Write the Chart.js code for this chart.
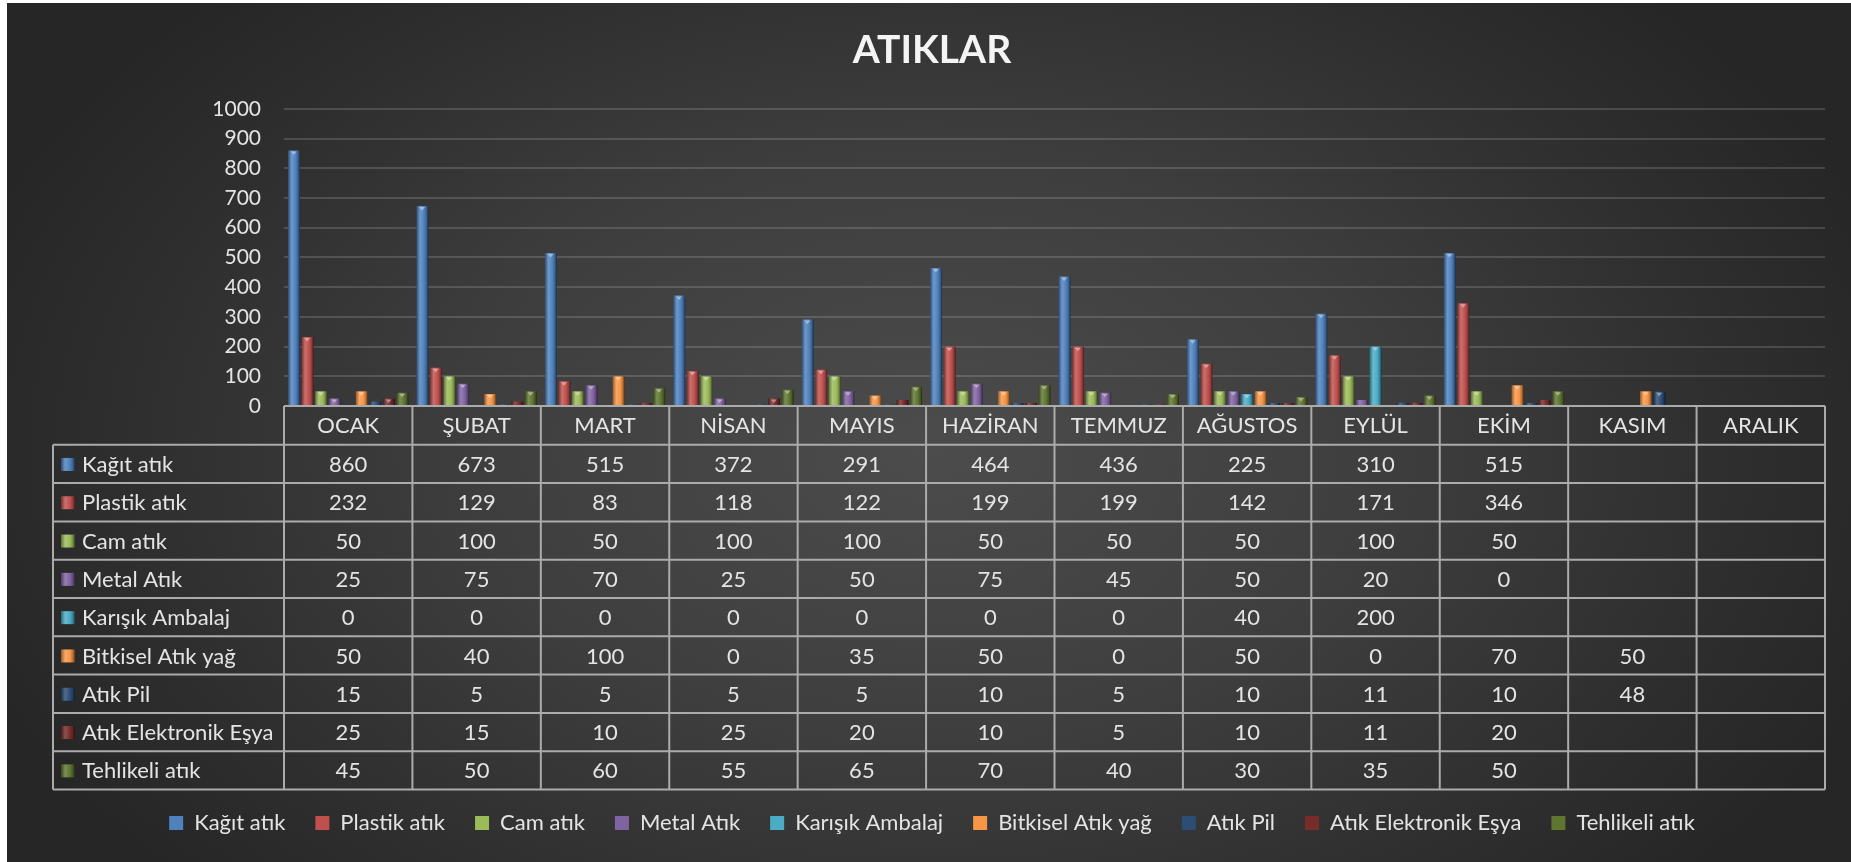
<!DOCTYPE html>
<html lang="tr">
<head>
<meta charset="utf-8">
<title>ATIKLAR</title>
<script src="https://cdn.jsdelivr.net/npm/chart.js@4.4.1/dist/chart.umd.min.js"></script>
<style>
    html, body { margin: 0; padding: 0; background: #ffffff; }
    body { width: 1851px; height: 862px; overflow: hidden; position: relative; }
    #frame {
        position: absolute; left: 7px; top: 3px; width: 1844px; height: 859px;
        background: radial-gradient(ellipse 55% 75% at 50% 52%, #4c4c4c 0%, #3e3e3e 45%, #2e2e2e 80%, #262626 100%);
    }
    canvas { display: block; }
</style>
</head>
<body>
<div id="frame"><canvas id="wasteChart"></canvas></div>
<script>
'use strict';

// ============================================================================
// DATA
// ============================================================================

const MONTHS = ['OCAK', 'ŞUBAT', 'MART', 'NİSAN', 'MAYIS', 'HAZİRAN', 'TEMMUZ', 'AĞUSTOS', 'EYLÜL', 'EKİM', 'KASIM', 'ARALIK'];

const SERIES_NAMES = ['Kağıt atık', 'Plastik atık', 'Cam atık', 'Metal Atık', 'Karışık Ambalaj',
    'Bitkisel Atık yağ', 'Atık Pil', 'Atık Elektronik Eşya', 'Tehlikeli atık'];

const kagitAtik      = [860, 673, 515, 372, 291, 464, 436, 225, 310, 515, null, null];
const plastikAtik    = [232, 129, 83, 118, 122, 199, 199, 142, 171, 346, null, null];
const camAtik        = [50, 100, 50, 100, 100, 50, 50, 50, 100, 50, null, null];
const metalAtik      = [25, 75, 70, 25, 50, 75, 45, 50, 20, 0, null, null];
const karisikAmbalaj = [0, 0, 0, 0, 0, 0, 0, 40, 200, null, null, null];
const bitkiselYag    = [50, 40, 100, 0, 35, 50, 0, 50, 0, 70, 50, null];
const atikPil        = [15, 5, 5, 5, 5, 10, 5, 10, 11, 10, 48, null];
const elektronikEsya = [25, 15, 10, 25, 20, 10, 5, 10, 11, 20, null, null];
const tehlikeliAtik  = [45, 50, 60, 55, 65, 70, 40, 30, 35, 50, null, null];

const SERIES_VALUES = [kagitAtik, plastikAtik, camAtik, metalAtik, karisikAmbalaj,
    bitkiselYag, atikPil, elektronikEsya, tehlikeliAtik];

const Y_MAX = 1000;
const Y_STEP = 100;

// ============================================================================
// STYLE
// ============================================================================

const SERIES_COLORS = ['#4F81BD', '#C0504D', '#9BBB59', '#8064A2', '#4BACC6',
    '#F79646', '#2C4D75', '#772C2A', '#5F7530'];

const FONT_FAMILY = 'Lato, "Open Sans", sans-serif';
const TEXT_COLOR = '#e4e4e4';

/** Data table geometry (canvas px) */
const TABLE = {
    left: 46,
    headerHeight: 38.8,
    rowHeight: 38.3,
    lineColor: '#ababab',
    lineWidth: 2,
    fontSize: 22,
    swatchOffset: 8,
    textOffset: 29
};

/** Left layout padding: balances the centred title and the centred legend */
const PAD_LEFT = 32;

/**
 * Mixes a hex colour toward black (amount < 0) or white (amount > 0).
 * @param {string} hex
 * @param {number} amount -1..1
 * @returns {string}
 */
function shadeColor(hex, amount) {
    const n = parseInt(hex.slice(1), 16);
    const target = amount < 0 ? 0 : 255;
    const p = Math.abs(amount);
    const mix = c => Math.round((target - c) * p + c);
    return `rgb(${mix(n >> 16)}, ${mix((n >> 8) & 255)}, ${mix(n & 255)})`;
}

function barGradient(ctx, left, right, base) {
    const g = ctx.createLinearGradient(left, 0, right, 0);
    g.addColorStop(0, shadeColor(base, -0.4));
    g.addColorStop(0.3, shadeColor(base, 0.18));
    g.addColorStop(0.65, base);
    g.addColorStop(0.85, shadeColor(base, -0.25));
    g.addColorStop(1, shadeColor(base, -0.65));
    return g;
}

// ============================================================================
// PLUGINS
// ============================================================================

/** Gives every bar a cylinder-like horizontal shading and a bevel notch on top. */
const barShadingPlugin = {
    id: 'barShading',
    beforeDatasetsDraw(chart) {
        const ctx = chart.ctx;
        chart.data.datasets.forEach((dataset, di) => {
            const base = SERIES_COLORS[di];
            chart.getDatasetMeta(di).data.forEach(bar => {
                const left = bar.x - bar.width / 2;
                const right = bar.x + bar.width / 2;
                if (!isFinite(left) || !isFinite(right)) return;
                bar.options = Object.assign({}, bar.options, {
                    backgroundColor: barGradient(ctx, left, right, base)
                });
            });
        });
    },
    afterDatasetsDraw(chart) {
        const ctx = chart.ctx;
        ctx.save();
        chart.data.datasets.forEach((dataset, di) => {
            const base = SERIES_COLORS[di];
            chart.getDatasetMeta(di).data.forEach(bar => {
                const h = bar.base - bar.y;
                if (!isFinite(h) || h < 6) return;
                const w = bar.width;
                ctx.fillStyle = shadeColor(base, 0.45);
                ctx.beginPath();
                ctx.moveTo(bar.x - w * 0.28, bar.y + 1);
                ctx.lineTo(bar.x + w * 0.22, bar.y + 1);
                ctx.lineTo(bar.x - w * 0.03, bar.y + 4.5);
                ctx.closePath();
                ctx.fill();
            });
        });
        ctx.restore();
    }
};

/** Draws the Excel-style data table under the plot, aligned to the category scale. */
const dataTablePlugin = {
    id: 'dataTable',
    afterDraw(chart) {
        const { ctx, chartArea, scales: { x } } = chart;
        const catW = (x.right - x.left) / MONTHS.length;
        const headerTop = chartArea.bottom;
        const headerBottom = headerTop + TABLE.headerHeight;
        const rowsBottom = headerBottom + SERIES_NAMES.length * TABLE.rowHeight;

        ctx.save();
        ctx.strokeStyle = TABLE.lineColor;
        ctx.lineWidth = TABLE.lineWidth;
        ctx.beginPath();
        ctx.moveTo(x.left, headerTop);
        ctx.lineTo(x.right, headerTop);
        for (let r = 0; r <= SERIES_NAMES.length; r++) {
            const y = headerBottom + r * TABLE.rowHeight;
            ctx.moveTo(TABLE.left, y);
            ctx.lineTo(x.right, y);
        }
        ctx.moveTo(TABLE.left, headerBottom);
        ctx.lineTo(TABLE.left, rowsBottom);
        for (let i = 0; i <= MONTHS.length; i++) {
            const xx = x.left + i * catW;
            ctx.moveTo(xx, headerTop);
            ctx.lineTo(xx, rowsBottom);
        }
        ctx.stroke();

        ctx.fillStyle = TEXT_COLOR;
        ctx.font = `${TABLE.fontSize}px ${FONT_FAMILY}`;
        ctx.textBaseline = 'middle';
        ctx.textAlign = 'center';
        MONTHS.forEach((month, i) => {
            ctx.fillText(month, x.getPixelForValue(i), headerTop + TABLE.headerHeight / 2 + 1);
        });

        SERIES_NAMES.forEach((name, r) => {
            const yMid = headerBottom + (r + 0.5) * TABLE.rowHeight + 1;
            const sx = TABLE.left + TABLE.swatchOffset;
            ctx.fillStyle = barGradient(ctx, sx, sx + 14, SERIES_COLORS[r]);
            ctx.fillRect(sx, yMid - 7, 14, 13);

            ctx.fillStyle = TEXT_COLOR;
            ctx.textAlign = 'left';
            ctx.fillText(name, TABLE.left + TABLE.textOffset, yMid);

            ctx.textAlign = 'center';
            SERIES_VALUES[r].forEach((value, i) => {
                if (value === null) return;
                ctx.fillText(String(value), x.getPixelForValue(i), yMid);
            });
        });
        ctx.restore();
    }
};

// ============================================================================
// CHART
// ============================================================================

function renderWasteChart() {
    const canvas = document.getElementById('wasteChart');
    if (!canvas) return;

    new Chart(canvas.getContext('2d'), {
        type: 'bar',
        data: {
            labels: MONTHS,
            datasets: SERIES_NAMES.map((name, i) => ({
                label: name,
                data: SERIES_VALUES[i],
                backgroundColor: SERIES_COLORS[i],
                borderWidth: 0,
                categoryPercentage: 0.95,
                barPercentage: 0.88
            }))
        },
        options: {
            responsive: true,
            maintainAspectRatio: false,
            animation: false,
            devicePixelRatio: 1,
            layout: { padding: { left: PAD_LEFT, right: 26, top: 0, bottom: 18 } },
            plugins: {
                title: {
                    display: true,
                    text: 'ATIKLAR',
                    color: '#f4f4f4',
                    font: { family: FONT_FAMILY, size: 39, weight: 'bold' },
                    padding: { top: 24, bottom: 35 }
                },
                legend: {
                    position: 'bottom',
                    labels: {
                        color: TEXT_COLOR,
                        font: { family: FONT_FAMILY, size: 22 },
                        boxWidth: 14,
                        boxHeight: 14,
                        padding: 30
                    }
                },
                tooltip: { enabled: false }
            },
            scales: {
                x: {
                    grid: { display: false },
                    border: { display: false },
                    ticks: { display: false },
                    afterFit: scale => { scale.height = 376; }
                },
                y: {
                    min: 0,
                    max: Y_MAX,
                    border: { display: false },
                    grid: { color: 'rgba(255, 255, 255, 0.15)', lineWidth: 2, drawTicks: false },
                    ticks: {
                        stepSize: Y_STEP,
                        color: TEXT_COLOR,
                        padding: 23,
                        font: { family: FONT_FAMILY, size: 21 },
                        callback: value => String(value)
                    },
                    afterFit: scale => { scale.width = 277 - PAD_LEFT; }
                }
            }
        },
        plugins: [barShadingPlugin, dataTablePlugin]
    });
}

renderWasteChart();
</script>
</body>
</html>
